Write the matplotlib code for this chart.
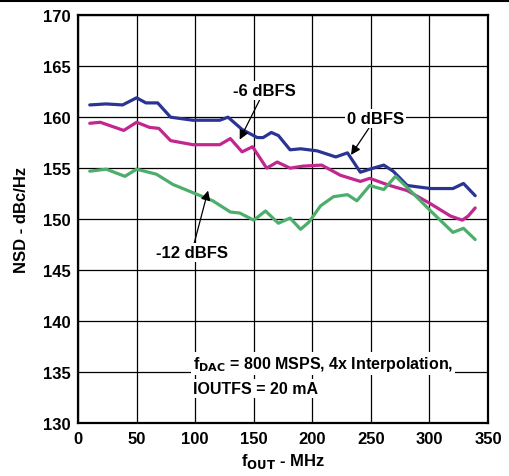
import numpy as np
import matplotlib
matplotlib.use("Agg")
import matplotlib.pyplot as plt
from matplotlib.lines import Line2D

plt.rcParams['font.family'] = ['Liberation Sans', 'DejaVu Sans']
plt.rcParams['font.weight'] = 'bold'

# 0 dBFS (blue)
f_0 = [10, 24, 38, 50, 58, 68, 79, 98, 121, 128, 140, 153, 158, 165, 171, 181, 190,
       204, 220, 230, 241, 249, 261, 269, 281, 301, 320, 329, 339]
nsd_0 = [161.2, 161.3, 161.2, 161.9, 161.4, 161.4, 160.0, 159.7, 159.7, 160.0, 158.8,
         158.0, 158.0, 158.5, 158.2, 156.8, 156.9, 156.7, 156.1, 156.5, 154.6, 154.9,
         155.3, 154.7, 153.3, 153.0, 153.0, 153.5, 152.3]

# -6 dBFS (magenta)
f_6 = [10, 19, 39, 50, 61, 69, 79, 98, 121, 130, 140, 149, 161, 170, 181, 192,
       208, 224, 241, 249, 266, 281, 301, 318, 328, 333, 339]
nsd_6 = [159.4, 159.5, 158.7, 159.5, 159.0, 158.9, 157.7, 157.3, 157.3, 157.9, 156.6,
         157.1, 155.0, 155.6, 155.0, 155.2, 155.3, 154.3, 153.7, 154.0, 153.3, 152.8,
         151.5, 150.3, 149.9, 150.3, 151.1]

# -12 dBFS (green)
f_12 = [10, 24, 40, 50, 67, 81, 98, 115, 130, 138, 150, 160, 171, 181, 190, 197,
        207, 218, 230, 238, 249, 261, 271, 281, 301, 320, 329, 339]
nsd_12 = [154.7, 154.9, 154.2, 154.9, 154.4, 153.4, 152.6, 151.8, 150.7, 150.6, 149.9,
          150.8, 149.6, 150.1, 149.0, 149.7, 151.3, 152.2, 152.4, 151.8, 153.3, 152.9,
          154.2, 153.1, 150.8, 148.7, 149.1, 148.0]

fig = plt.figure(figsize=(5.10, 4.77), dpi=100)
ax = fig.add_axes([0.153, 0.111, 0.804, 0.855])

lw = 2.3
for f, v, c in [(f_0, nsd_0, '#2a3593'), (f_6, nsd_6, '#c2268f'), (f_12, nsd_12, '#4dae6c')]:
    ax.plot(f, v, color=c, lw=lw, zorder=3, solid_joinstyle='round', solid_capstyle='round')

ax.set_xlim(0, 350)
ax.set_ylim(130, 170)
ax.set_xticks(np.arange(0, 351, 50))
ax.set_yticks(np.arange(130, 171, 5))
ax.grid(True, color='black', lw=0.9)
ax.tick_params(length=0, labelsize=12)
ax.tick_params(axis='x', pad=6)
ax.tick_params(axis='y', pad=5)
for lab in ax.get_xticklabels() + ax.get_yticklabels():
    lab.set_fontweight('bold')
for s in ax.spines.values():
    s.set_linewidth(1.6)

ax.set_xlabel(r'f$_{\mathbf{OUT}}$ - MHz', fontsize=12, fontweight='bold', labelpad=3)
ax.set_ylabel('NSD - dBc/Hz', fontsize=12, fontweight='bold', labelpad=10)

box = dict(facecolor='white', edgecolor='none', pad=1.5)
arr = dict(arrowstyle='-|>', color='black', lw=0.9, mutation_scale=14, shrinkA=0, shrinkB=0)
ax.annotate('-6 dBFS', xy=(138, 157.8), xytext=(159, 162.6), fontsize=12,
            fontweight='bold', ha='center', va='center', bbox=box, arrowprops=arr, zorder=4)
ax.annotate('0 dBFS', xy=(233, 156.3), xytext=(254, 159.9), fontsize=12,
            fontweight='bold', ha='center', va='center', bbox=box, arrowprops=arr, zorder=4)
ax.annotate('-12 dBFS', xy=(111, 152.8), xytext=(97, 146.7), fontsize=12,
            fontweight='bold', ha='center', va='center', bbox=box, arrowprops=arr, zorder=4)

ax.text(98, 135.8, r'f$_{\mathbf{DAC}}$ = 800 MSPS, 4x Interpolation,', fontsize=11.5,
        fontweight='bold', ha='left', va='center', bbox=box, zorder=4)
ax.text(98, 133.4, 'IOUTFS = 20 mA', fontsize=11.5,
        fontweight='bold', ha='left', va='center', bbox=box, zorder=4)

fig.add_artist(Line2D([0, 1], [0.996, 0.996], color='black', lw=1.5, transform=fig.transFigure))

fig.savefig('out.png', dpi=100)
